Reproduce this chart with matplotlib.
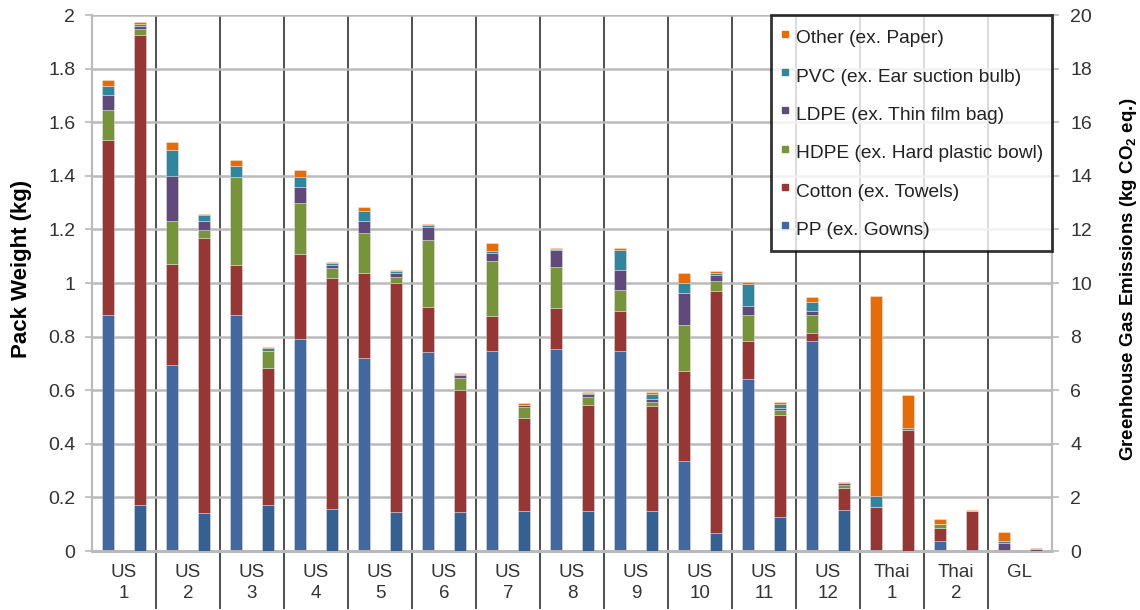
import numpy as np
import matplotlib.pyplot as plt
from matplotlib.lines import Line2D

plt.rcParams['font.family'] = ['Liberation Sans', 'DejaVu Sans']
plt.rcParams['mathtext.fontset'] = 'custom'
plt.rcParams['mathtext.rm'] = 'Liberation Sans:bold'

# categories
packs = ['US\n1', 'US\n2', 'US\n3', 'US\n4', 'US\n5', 'US\n6', 'US\n7', 'US\n8',
         'US\n9', 'US\n10', 'US\n11', 'US\n12', 'Thai\n1', 'Thai\n2', 'GL']
materials = ['PP (ex. Gowns)', 'Cotton (ex. Towels)', 'HDPE (ex. Hard plastic bowl)',
             'LDPE (ex. Thin film bag)', 'PVC (ex. Ear suction bulb)', 'Other (ex. Paper)']

# pack weight (kg), left bars
w_pp     = [0.880, 0.693, 0.880, 0.790, 0.720, 0.744, 0.747, 0.755, 0.747, 0.336, 0.640, 0.785, 0.000, 0.037, 0.000]
w_cotton = [0.652, 0.379, 0.187, 0.317, 0.316, 0.167, 0.129, 0.150, 0.150, 0.335, 0.144, 0.029, 0.165, 0.050, 0.000]
w_hdpe   = [0.113, 0.161, 0.329, 0.192, 0.151, 0.249, 0.207, 0.155, 0.078, 0.173, 0.095, 0.067, 0.000, 0.012, 0.000]
w_ldpe   = [0.055, 0.167, 0.000, 0.060, 0.046, 0.049, 0.030, 0.064, 0.072, 0.120, 0.037, 0.016, 0.000, 0.003, 0.029]
w_pvc    = [0.036, 0.096, 0.040, 0.037, 0.036, 0.007, 0.007, 0.003, 0.076, 0.036, 0.081, 0.031, 0.041, 0.000, 0.009]
w_other  = [0.023, 0.031, 0.024, 0.027, 0.014, 0.005, 0.028, 0.005, 0.008, 0.036, 0.007, 0.019, 0.744, 0.017, 0.032]

# greenhouse gas emissions (kg CO2 eq.), right bars
g_pp     = [1.73, 1.40, 1.73, 1.57, 1.47, 1.47, 1.51, 1.51, 1.49, 0.67, 1.27, 1.53, 0.00, 0.05, 0.00]
g_cotton = [17.54, 10.27, 5.10, 8.60, 8.53, 4.53, 3.46, 3.93, 3.91, 9.02, 3.82, 0.83, 4.53, 1.44, 0.00]
g_hdpe   = [0.22, 0.30, 0.64, 0.38, 0.24, 0.47, 0.42, 0.32, 0.17, 0.38, 0.18, 0.10, 0.00, 0.00, 0.00]
g_ldpe   = [0.11, 0.36, 0.00, 0.12, 0.13, 0.10, 0.05, 0.11, 0.12, 0.24, 0.06, 0.06, 0.00, 0.00, 0.06]
g_pvc    = [0.07, 0.19, 0.10, 0.06, 0.06, 0.03, 0.02, 0.02, 0.18, 0.06, 0.16, 0.02, 0.06, 0.00, 0.00]
g_other  = [0.08, 0.05, 0.04, 0.06, 0.04, 0.05, 0.05, 0.04, 0.06, 0.06, 0.07, 0.05, 1.24, 0.04, 0.04]

colors_w = ['#4169A0', '#953735', '#77933C', '#604A7B', '#31859C', '#E46C0A']
colors_g = ['#376092', '#953735', '#77933C', '#604A7B', '#31859C', '#E46C0A']
txt = '#333333'
gridc = '#BABABA'

w_series = [w_pp, w_cotton, w_hdpe, w_ldpe, w_pvc, w_other]
g_series = [g_pp, g_cotton, g_hdpe, g_ldpe, g_pvc, g_other]

fig = plt.figure(figsize=(11.4, 6.1), dpi=100)
ax = fig.add_axes([92/1140, 1 - 551/610, 960/1140, 536/610])
ax2 = ax.twinx()

x = np.arange(len(packs)) + 0.5
bw = 0.2
edge = (1, 1, 1, 0.45)

bottom = np.zeros(len(packs))
for vals, c in zip(w_series, colors_w):
    ax.bar(x - 0.25, vals, bw, bottom=bottom, color=c, edgecolor=edge, linewidth=0.5, zorder=3)
    bottom += np.array(vals)

bottom = np.zeros(len(packs))
for vals, c in zip(g_series, colors_g):
    ax2.bar(x + 0.25, vals, bw, bottom=bottom, color=c, edgecolor=edge, linewidth=0.5, zorder=3)
    bottom += np.array(vals)

ax.set_xlim(0, len(packs))
ax.set_ylim(0, 2)
ax2.set_ylim(0, 20)
ax.set_yticks(np.arange(0, 2.01, 0.2))
ax.set_yticklabels(['0', '0.2', '0.4', '0.6', '0.8', '1', '1.2', '1.4', '1.6', '1.8', '2'])
ax2.set_yticks(np.arange(0, 21, 2))

# group labels and separators
ax.set_xticks(x)
ax.set_xticklabels(packs, fontsize=13.5, color=txt, linespacing=1.3)
ax.set_xticks(np.arange(1, len(packs)), minor=True)
ax.tick_params(axis='x', which='major', length=0, pad=9.5)
ax.tick_params(axis='x', which='minor', length=42, width=1.3, color='#404040')
ax.grid(axis='x', which='minor', color='#404040', linewidth=1.3, zorder=1)
ax.grid(axis='y', which='major', color=gridc, linewidth=1.8, zorder=1)
ax.set_axisbelow(True)

ax.tick_params(axis='y', labelsize=14, labelcolor=txt, color=gridc, length=5, width=1.2, pad=7)
ax2.tick_params(axis='y', labelsize=14, labelcolor=txt, color=gridc, length=5, width=1.2, pad=8)

for a in (ax, ax2):
    a.spines['top'].set_visible(False)
    a.spines['left'].set_color(gridc)
    a.spines['right'].set_color(gridc)
    a.spines['bottom'].set_color(gridc)
    a.spines['bottom'].set_linewidth(2)
    a.spines['left'].set_linewidth(1.5)
    a.spines['right'].set_linewidth(1.5)

ax.set_ylabel('Pack Weight (kg)', fontsize=16, fontweight='bold', color='black')
ax.yaxis.set_label_coords(-0.0625, 0.526)
ax2.set_ylabel(r'Greenhouse Gas Emissions (kg CO$_\mathrm{2}$ eq.)', fontsize=13.5,
               fontweight='bold', color='black')
ax2.yaxis.set_label_coords(1.069, 0.507)

handles = [Line2D([], [], marker='s', linestyle='none', markersize=5,
                  markerfacecolor=c, markeredgecolor=c) for c in colors_w]
leg = ax2.legend(handles[::-1], materials[::-1], loc='upper right', bbox_to_anchor=(1, 1),
                 borderaxespad=0, fontsize=13.8, frameon=True, fancybox=False,
                 handlelength=0.5, handleheight=1.75, handletextpad=0.33,
                 labelspacing=0.62, borderpad=0.46, labelcolor='#222222')
leg.get_frame().set_edgecolor('black')
leg.get_frame().set_linewidth(2)
leg.set_zorder(10)

plt.savefig('out.png', dpi=100)
plt.close()
